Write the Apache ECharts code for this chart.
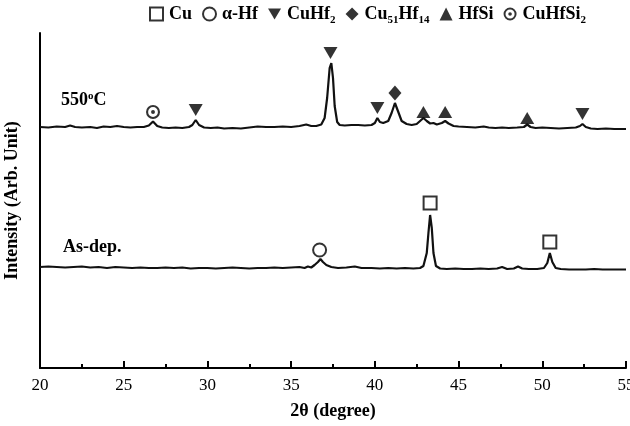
<!DOCTYPE html>
<html>
<head>
<meta charset="utf-8">
<script src="https://cdn.jsdelivr.net/npm/echarts@6/dist/echarts.min.js"></script>
<style>
  html, body { margin: 0; padding: 0; background: #fff; }
  #chart { width: 630px; height: 426px; }
</style>
</head>
<body>
<div id="chart"></div>
<script>
// 2theta (deg) and intensity (arb.) of the annealed film, offset upward
const theta550 = [20.0, 20.5, 21.0, 21.5, 21.8, 22.1, 22.5, 23.0, 23.4, 23.8, 24.2, 24.6, 25.0, 25.4, 25.8, 26.2, 26.5, 26.75, 27.0, 27.3, 27.7, 28.1, 28.5, 28.9, 29.1, 29.3, 29.5, 29.8, 30.2, 30.6, 31.0, 31.5, 32.0, 32.5, 33.0, 33.5, 34.0, 34.5, 35.0, 35.5, 35.9, 36.2, 36.5, 36.8, 37.0, 37.15, 37.3, 37.4, 37.5, 37.6, 37.75, 37.9, 38.2, 38.6, 39.0, 39.4, 39.8, 40.0, 40.15, 40.3, 40.5, 40.8, 41.0, 41.2, 41.4, 41.6, 41.9, 42.2, 42.5, 42.7, 42.9, 43.1, 43.3, 43.5, 43.7, 44.0, 44.2, 44.4, 44.7, 45.0, 45.5, 46.0, 46.5, 46.8, 47.2, 47.6, 48.0, 48.5, 48.9, 49.1, 49.3, 49.6, 50.0, 50.5, 51.0, 51.5, 52.0, 52.25, 52.4, 52.6, 52.9, 53.3, 53.8, 54.3, 54.8, 55.0];
const int550 = [241, 240.5, 241.5, 241, 242.5, 241, 240.5, 241, 240, 241.5, 241, 242, 241, 240.5, 241, 241, 242.5, 246.5, 242, 240.5, 240, 240.5, 240, 241, 243, 248, 243, 240.5, 240, 240.5, 239.5, 240, 239.5, 240.5, 241.5, 241, 241, 241.5, 241, 242, 243.5, 242, 242, 243.5, 250, 270, 300, 305, 290, 262, 246, 243, 242.5, 243, 243, 242.5, 243, 245, 250, 246, 245, 247, 255, 265, 256, 247, 244, 243, 244, 247, 250, 247, 244.5, 245, 243.5, 245, 247, 244.5, 242, 241.5, 241, 240.5, 241.5, 240.5, 240, 240.5, 240, 240.5, 241, 243.5, 241, 240, 240.5, 240, 239.5, 240, 240.5, 242, 244, 241, 239.5, 239, 239.5, 239, 239, 239];

// as-deposited film
const thetaAs = [20.0, 20.5, 21.0, 21.5, 22.0, 22.5, 23.0, 23.5, 24.0, 24.5, 25.0, 25.5, 26.0, 26.5, 27.0, 27.5, 28.0, 28.5, 29.0, 29.5, 30.0, 30.5, 31.0, 31.5, 32.0, 32.5, 33.0, 33.5, 34.0, 34.5, 35.0, 35.5, 35.8, 36.0, 36.2, 36.4, 36.6, 36.75, 36.9, 37.1, 37.4, 37.8, 38.3, 38.8, 39.2, 39.8, 40.3, 40.8, 41.3, 41.8, 42.3, 42.7, 42.9, 43.1, 43.2, 43.3, 43.4, 43.5, 43.65, 43.9, 44.3, 44.8, 45.3, 45.8, 46.3, 46.8, 47.3, 47.6, 47.9, 48.3, 48.55, 48.8, 49.2, 49.7, 50.1, 50.3, 50.45, 50.6, 50.8, 51.1, 51.6, 52.1, 52.6, 53.1, 53.6, 54.1, 54.6, 55.0];
const intAs = [101, 101.5, 101, 100.5, 101, 101.5, 100.5, 101, 100, 101, 100.5, 100, 100.5, 100, 100, 100.5, 100, 100.5, 99.5, 100, 100, 99.5, 100, 100.5, 100, 99.5, 100, 100, 100.5, 100, 100.5, 101, 100, 101.5, 100.5, 103, 106, 109, 106, 103, 101, 100, 100.5, 101.5, 100, 100, 99.5, 100, 99.5, 100, 99.5, 100, 102, 115, 135, 153, 140, 115, 102, 99.5, 99, 99.5, 99, 99, 99.5, 99, 99.5, 101, 99, 99.5, 101.5, 99.5, 99, 99, 100, 105, 115, 106, 100, 99, 98.5, 98.5, 98.5, 99, 98.5, 98.5, 98.5, 98.5];

// phase markers [2theta, height]
const markCu = [[43.3, 165], [50.45, 126]];
const markHf = [[36.7, 118]];
const markCuHf2 = [[29.3, 258], [37.35, 315], [40.15, 260], [52.4, 254]];
const markCu51Hf14 = [[41.2, 275]];
const markHfSi = [[42.9, 256], [44.2, 256], [49.1, 250]];
const markCuHfSi2 = [[26.75, 256]];

const phaseNames = ['Cu', 'α-Hf', 'CuHf2', 'Cu51Hf14', 'HfSi', 'CuHfSi2'];
const xTicks = [20, 25, 30, 35, 40, 45, 50, 55];

const FONT = 'Liberation Serif';
const dotCircle = 'path://M10,0 A10,10 0 1,1 10,20 A10,10 0 1,1 10,0 Z M10,3 A7,7 0 1,0 10,17 A7,7 0 1,0 10,3 Z M10,7.2 A2.8,2.8 0 1,1 10,12.8 A2.8,2.8 0 1,1 10,7.2 Z';
const downTri = 'path://M0,0 L20,0 L10,17 Z';

function zip(a, b) {
  return a.map(function (x, i) { return [x, b[i]]; });
}

function marker(name, data, symbol, size, hollow) {
  return {
    name: name,
    type: 'scatter',
    data: data,
    symbol: symbol,
    symbolSize: size,
    z: 5,
    itemStyle: hollow
      ? { color: '#fff', borderColor: '#000', borderWidth: 2 }
      : { color: '#000' }
  };
}

const chart = echarts.init(document.getElementById('chart'));

const subNames = {
  'CuHf2': 'CuHf{s|2}',
  'Cu51Hf14': 'Cu{s|51}Hf{s|14}',
  'CuHfSi2': 'CuHfSi{s|2}'
};

const option = {
  animation: false,
  backgroundColor: '#fff',
  grid: { left: 40, right: 4, top: 33, bottom: 58, outerBoundsMode: 'none', containLabel: false },
  legend: {
    data: phaseNames,
    left: 144,
    top: -3,
    itemWidth: 13,
    itemHeight: 13,
    itemGap: 10,
    formatter: function (n) { return subNames[n] || n; },
    textStyle: {
      fontFamily: FONT,
      fontWeight: 'bold',
      fontSize: 18,
      color: '#000',
      lineHeight: 24,
      padding: [0, 0, 0, 1],
      rich: {
        s: { fontFamily: FONT, fontWeight: 'bold', fontSize: 11, verticalAlign: 'bottom', lineHeight: 24 }
      }
    }
  },
  xAxis: {
    type: 'value',
    min: 20,
    max: 55,
    interval: 5,
    name: '2θ (degree)',
    nameLocation: 'middle',
    nameGap: 34,
    nameTextStyle: { fontFamily: FONT, fontWeight: 'bold', fontSize: 18, color: '#000' },
    axisLine: { onZero: false, lineStyle: { color: '#000', width: 2 } },
    axisTick: { inside: true, length: 7, lineStyle: { color: '#000', width: 2 } },
    minorTick: { show: true, splitNumber: 2, length: 4, lineStyle: { color: '#000', width: 2 } },
    splitLine: { show: false },
    axisLabel: {
      fontFamily: FONT,
      fontSize: 17,
      color: '#000',
      margin: 9,
      formatter: function (v) { return xTicks.indexOf(v) >= 0 ? String(v) : ''; }
    }
  },
  yAxis: {
    type: 'value',
    min: 0,
    max: 335,
    name: 'Intensity (Arb. Unit)',
    nameLocation: 'middle',
    nameGap: 19,
    nameRotate: 90,
    nameTextStyle: { fontFamily: FONT, fontWeight: 'bold', fontSize: 18, color: '#000' },
    axisLine: { show: true, lineStyle: { color: '#000', width: 2 } },
    axisTick: { show: false },
    axisLabel: { show: false },
    splitLine: { show: false }
  },
  graphic: [
    {
      type: 'text',
      left: 61,
      top: 91,
      style: {
        text: '550{o|o}C',
        fontFamily: FONT,
        fontWeight: 'bold',
        fontSize: 18,
        fill: '#000',
        rich: { o: { fontFamily: FONT, fontWeight: 'bold', fontSize: 11, verticalAlign: 'top' } }
      }
    },
    {
      type: 'text',
      left: 63,
      top: 238,
      style: { text: 'As-dep.', fontFamily: FONT, fontWeight: 'bold', fontSize: 18, fill: '#000' }
    }
  ],
  series: [
    {
      name: '550', type: 'line', data: zip(theta550, int550), showSymbol: false,
      lineStyle: { color: '#111', width: 2.2 }, z: 2
    },
    {
      name: 'as-dep', type: 'line', data: zip(thetaAs, intAs), showSymbol: false,
      lineStyle: { color: '#111', width: 2.2 }, z: 2
    },
    marker('Cu', markCu, 'rect', 13, true),
    marker('α-Hf', markHf, 'circle', 13, true),
    marker('CuHf2', markCuHf2, downTri, [14, 12], false),
    marker('Cu51Hf14', markCu51Hf14, 'diamond', [13, 15], false),
    marker('HfSi', markHfSi, 'triangle', [14, 12], false),
    marker('CuHfSi2', markCuHfSi2, dotCircle, 14, false)
  ]
};

chart.setOption(option);
</script>
</body>
</html>
